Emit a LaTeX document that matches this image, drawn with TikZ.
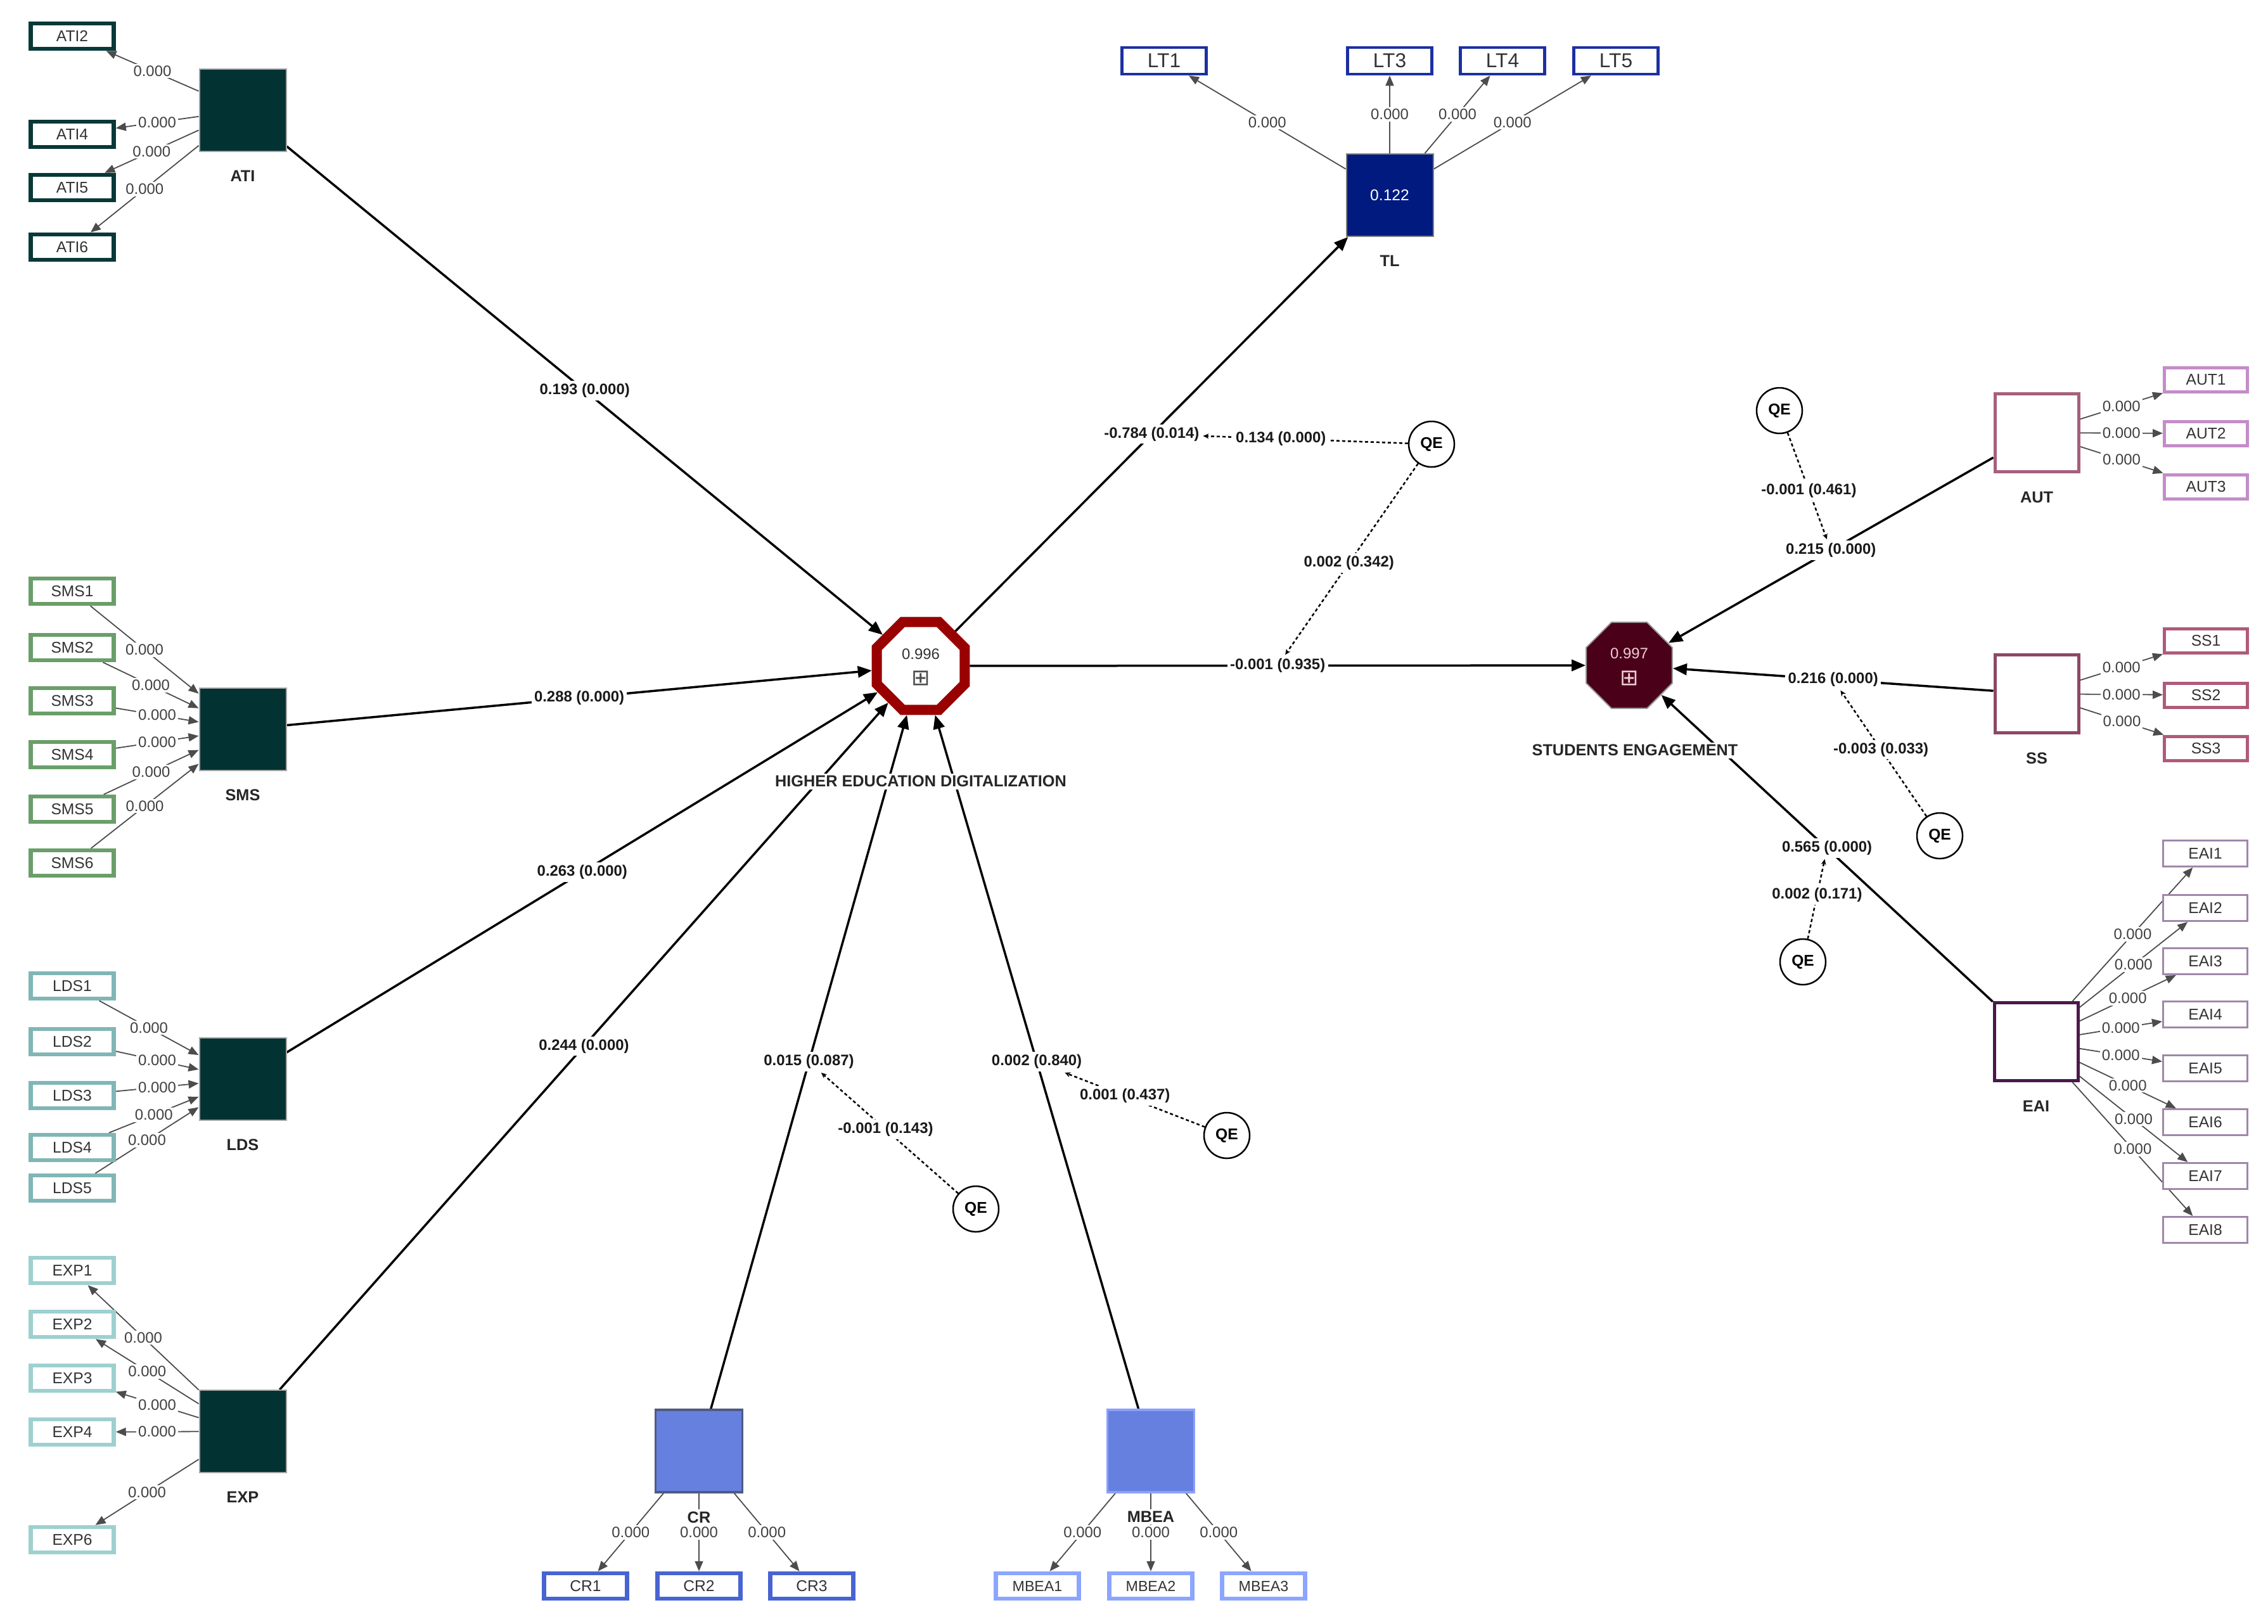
\documentclass[tikz,border=0pt]{standalone}
\usepackage{fontspec}
\setmainfont{Liberation Sans}
\newfontfamily\dejavu{DejaVu Sans}
\usetikzlibrary{shapes.geometric,arrows.meta}
\pgfdeclarelayer{bg}
\pgfsetlayers{bg,main}
\definecolor{cteal}{RGB}{3,50,50}
\definecolor{cATI}{RGB}{8,56,56}
\definecolor{cSMS}{RGB}{106,158,106}
\definecolor{cLDS}{RGB}{128,182,182}
\definecolor{cEXP}{RGB}{158,208,208}
\definecolor{cTL}{RGB}{0,26,128}
\definecolor{cLT}{RGB}{28,48,160}
\definecolor{cCR}{RGB}{102,128,224}
\definecolor{cCRb}{RGB}{80,90,130}
\definecolor{cMBb}{RGB}{140,160,250}
\definecolor{cCRi}{RGB}{72,100,210}
\definecolor{cMBi}{RGB}{140,165,255}
\definecolor{cHED}{RGB}{153,0,0}
\definecolor{cSE}{RGB}{75,0,25}
\definecolor{cAUT}{RGB}{165,96,125}
\definecolor{cAUTi}{RGB}{196,140,200}
\definecolor{cSS}{RGB}{140,72,100}
\definecolor{cSSi}{RGB}{176,90,122}
\definecolor{cEAI}{RGB}{75,25,75}
\definecolor{cEAIi}{RGB}{160,135,170}
\begin{document}
\begin{tikzpicture}[
  label distance=0.245cm,
  ind/.style={rectangle, fill=white, minimum width=1.31cm, minimum height=0.40cm, inner sep=0pt, font=\fontsize{7}{8}\selectfont, text=black!80},
  iATI/.style={ind, draw=cATI, line width=0.065cm},
  iSMS/.style={ind, draw=cSMS, line width=0.065cm},
  iLDS/.style={ind, draw=cLDS, line width=0.065cm},
  iEXP/.style={ind, draw=cEXP, line width=0.065cm},
  iLT/.style={ind, draw=cLT, line width=0.045cm, minimum width=1.33cm, minimum height=0.42cm, font=\fontsize{9}{10}\selectfont},
  iCR/.style={ind, draw=cCRi, line width=0.065cm},
  iMB/.style={ind, draw=cMBi, line width=0.065cm, font=\fontsize{6.6}{8}\selectfont},
  iAUT/.style={ind, draw=cAUTi, line width=0.05cm, minimum width=1.31cm, minimum height=0.38cm},
  iSS/.style={ind, draw=cSSi, line width=0.05cm, minimum width=1.31cm, minimum height=0.38cm},
  iEAI/.style={ind, draw=cEAIi, line width=0.03cm, minimum width=1.33cm, minimum height=0.41cm},
  conlab/.style={font=\bfseries\fontsize{7.2}{8}\selectfont, inner sep=1pt, fill=white, text=black!85},
  con/.style={rectangle, minimum width=1.37cm, minimum height=1.30cm, inner sep=0pt, line width=0.02cm},
  conD/.style={con, fill=cteal, draw=black!35},
  conTL/.style={con, fill=cTL, draw=black!50, text=white, font=\fontsize{7}{8}\selectfont},
  conCR/.style={con, fill=cCR, draw=cCRb, line width=0.035cm},
  conMB/.style={con, fill=cCR, draw=cMBb, line width=0.035cm},
  conW/.style={con, fill=white, line width=0.05cm, minimum width=1.32cm, minimum height=1.23cm},
  hedoct/.style={regular polygon, regular polygon sides=8, minimum size=1.50cm, draw=cHED, line width=0.16cm, fill=white, inner sep=0pt},
  seoct/.style={regular polygon, regular polygon sides=8, minimum size=1.47cm, draw=black!40, line width=0.02cm, fill=cSE, inner sep=0pt},
  ld/.style={draw=black!70, line width=0.018cm, -{Triangle[length=0.16cm,width=0.13cm]}},
  ldl/.style={font=\fontsize{6.8}{8}\selectfont, text=black!75, fill=white, inner sep=0.8pt},
  pth/.style={draw=black, line width=0.035cm, -{Triangle[length=0.22cm,width=0.18cm]}},
  pthl/.style={font=\bfseries\fontsize{6.8}{8}\selectfont, fill=white, inner sep=1.2pt, text=black!90},
  mod/.style={draw=black, line width=0.025cm, dash pattern=on 0.05cm off 0.04cm, -{Stealth[length=0.09cm,width=0.08cm]}},
  qest/.style={circle, draw, fill=white, line width=0.025cm, minimum size=0.72cm, inner sep=0pt, font=\bfseries\fontsize{7}{8}\selectfont}
]
\useasboundingbox (0,0) rectangle (35.79,-25.62);

% ---------- constructs ----------
\node[conD, label={[conlab]below:ATI}] (ati) at (3.83,-1.74) {};
\node[conD, label={[conlab]below:SMS}] (sms) at (3.83,-11.51) {};
\node[conD, label={[conlab]below:LDS}] (lds) at (3.83,-17.03) {};
\node[conD, label={[conlab]below:EXP}] (xp) at (3.83,-22.59) {};
\node[conTL, label={[conlab]below:TL}] (tl) at (21.93,-3.08) {0.122};
\node[conCR, label={[conlab]below:CR}] (cr) at (11.03,-22.90) {};
\node[conMB, label={[conlab]below:MBEA}] (mb) at (18.16,-22.90) {};
\node[conW, draw=cAUT, label={[conlab]below:AUT}] (aut) at (32.14,-6.83) {};
\node[conW, draw=cSS, label={[conlab]below:SS}] (ss) at (32.14,-10.95) {};
\node[conW, draw=cEAI, label={[conlab]below:EAI}] (eai) at (32.13,-16.44) {};

\node[hedoct] (hed) at (14.53,-10.51) {};
\node[font=\fontsize{6.8}{8}\selectfont, text=black!80, inner sep=0pt] (hedval) at (14.53,-10.32) {0.996};
\node[font=\dejavu\fontsize{10}{10}\selectfont, text=black!70, inner sep=0pt] (hedsym) at (14.53,-10.70) {⊞};
\node[conlab] (hedlab) at (14.53,-12.33) {HIGHER EDUCATION DIGITALIZATION};

\node[seoct] (se) at (25.71,-10.50) {};
\node[font=\fontsize{6.8}{8}\selectfont, text={rgb,255:red,240;green,205;blue,215}, inner sep=0pt] (seval) at (25.71,-10.31) {0.997};
\node[font=\dejavu\fontsize{10}{10}\selectfont, text={rgb,255:red,240;green,205;blue,215}, inner sep=0pt] (sesym) at (25.71,-10.70) {⊞};
\node[conlab] (selab) at (25.80,-11.84) {STUDENTS ENGAGEMENT};

% ---------- indicators ----------
\node[iATI] (ati2) at (1.14,-0.57) {ATI2};
\node[iATI] (ati4) at (1.14,-2.12) {ATI4};
\node[iATI] (ati5) at (1.14,-2.96) {ATI5};
\node[iATI] (ati6) at (1.14,-3.90) {ATI6};

\node[iSMS] (sms1) at (1.14,-9.33) {SMS1};
\node[iSMS] (sms2) at (1.14,-10.22) {SMS2};
\node[iSMS] (sms3) at (1.14,-11.06) {SMS3};
\node[iSMS] (sms4) at (1.14,-11.91) {SMS4};
\node[iSMS] (sms5) at (1.14,-12.77) {SMS5};
\node[iSMS] (sms6) at (1.14,-13.62) {SMS6};

\node[iLDS] (lds1) at (1.14,-15.56) {LDS1};
\node[iLDS] (lds2) at (1.14,-16.44) {LDS2};
\node[iLDS] (lds3) at (1.14,-17.29) {LDS3};
\node[iLDS] (lds4) at (1.14,-18.11) {LDS4};
\node[iLDS] (lds5) at (1.14,-18.75) {LDS5};

\node[iEXP] (xp1) at (1.14,-20.05) {EXP1};
\node[iEXP] (xp2) at (1.14,-20.90) {EXP2};
\node[iEXP] (xp3) at (1.14,-21.75) {EXP3};
\node[iEXP] (xp4) at (1.14,-22.60) {EXP4};
\node[iEXP] (xp6) at (1.14,-24.30) {EXP6};

\node[iLT] (lt1) at (18.37,-0.96) {LT1};
\node[iLT] (lt3) at (21.93,-0.96) {LT3};
\node[iLT] (lt4) at (23.71,-0.96) {LT4};
\node[iLT] (lt5) at (25.50,-0.96) {LT5};

\node[iAUT] (aut1) at (34.81,-5.99) {AUT1};
\node[iAUT] (aut2) at (34.81,-6.84) {AUT2};
\node[iAUT] (aut3) at (34.81,-7.68) {AUT3};

\node[iSS] (ss1) at (34.81,-10.11) {SS1};
\node[iSS] (ss2) at (34.81,-10.97) {SS2};
\node[iSS] (ss3) at (34.81,-11.81) {SS3};

\node[iEAI] (eai1) at (34.80,-13.47) {EAI1};
\node[iEAI] (eai2) at (34.80,-14.33) {EAI2};
\node[iEAI] (eai3) at (34.80,-15.17) {EAI3};
\node[iEAI] (eai4) at (34.80,-16.01) {EAI4};
\node[iEAI] (eai5) at (34.80,-16.86) {EAI5};
\node[iEAI] (eai6) at (34.80,-17.71) {EAI6};
\node[iEAI] (eai7) at (34.80,-18.56) {EAI7};
\node[iEAI] (eai8) at (34.80,-19.41) {EAI8};

\node[iCR] (cr1) at (9.24,-25.03) {CR1};
\node[iCR] (cr2) at (11.03,-25.03) {CR2};
\node[iCR] (cr3) at (12.81,-25.03) {CR3};

\node[iMB] (mb1) at (16.37,-25.03) {MBEA1};
\node[iMB] (mb2) at (18.16,-25.03) {MBEA2};
\node[iMB] (mb3) at (19.94,-25.03) {MBEA3};

% ---------- QE moderators ----------
\node[qest] (q1) at (22.59,-7.01) {QE};
\node[qest] (q2) at (28.08,-6.48) {QE};
\node[qest] (q3) at (30.61,-13.19) {QE};
\node[qest] (q4) at (28.45,-15.18) {QE};
\node[qest] (q5) at (15.40,-19.08) {QE};
\node[qest] (q6) at (19.36,-17.92) {QE};

\begin{pgfonlayer}{bg}
% ---------- loadings ----------
\foreach \i in {2,4,5,6} \draw[ld] (ati) -- node[ldl]{0.000} (ati\i);
\foreach \i in {1,...,6} \draw[ld] (sms\i) -- node[ldl]{0.000} (sms);
\foreach \i in {1,...,5} \draw[ld] (lds\i) -- node[ldl]{0.000} (lds);
\foreach \i in {1,2,3,4,6} \draw[ld] (xp) -- node[ldl]{0.000} (xp\i);
\foreach \i in {1,3,4,5} \draw[ld] (tl) -- node[ldl]{0.000} (lt\i);
\foreach \i in {1,2,3} \draw[ld] (aut) -- node[ldl]{0.000} (aut\i);
\foreach \i in {1,2,3} \draw[ld] (ss) -- node[ldl]{0.000} (ss\i);
\foreach \i in {1,...,8} \draw[ld] (eai) -- node[ldl]{0.000} (eai\i);
\foreach \i in {1,2,3} \draw[ld] (cr) -- node[ldl]{0.000} (cr\i);
\foreach \i in {1,2,3} \draw[ld] (mb) -- node[ldl]{0.000} (mb\i);

% ---------- structural paths ----------
\draw[pth] (ati) -- node[pthl] (p1) {0.193 (0.000)} (hed);
\draw[pth] (sms) -- node[pthl] (p2) {0.288 (0.000)} (hed);
\draw[pth] (lds) -- node[pthl] (p3) {0.263 (0.000)} (hed);
\draw[pth] (xp) -- node[pthl] (p4) {0.244 (0.000)} (hed);
\draw[pth] (cr) -- node[pthl] (p5) {0.015 (0.087)} (hed);
\draw[pth] (mb) -- node[pthl] (p6) {0.002 (0.840)} (hed);
\draw[pth] (hed) -- node[pthl] (p7) {-0.784 (0.014)} (tl);
\draw[pth] (hed) -- node[pthl] (p8) {-0.001 (0.935)} (se);
\draw[pth] (aut) -- node[pthl] (p9) {0.215 (0.000)} (se);
\draw[pth] (ss) -- node[pthl] (p10) {0.216 (0.000)} (se);
\draw[pth] (eai) -- node[pthl] (p11) {0.565 (0.000)} (se);

% ---------- moderating effects ----------
\draw[mod] (q1) -- node[pos=0.62, pthl]{0.134 (0.000)} (p7);
\draw[mod] (q1) -- node[pos=0.52, pthl]{0.002 (0.342)} (p8);
\draw[mod] (q2) -- node[pos=0.54, pthl]{-0.001 (0.461)} (p9);
\draw[mod] (q3) -- node[pos=0.53, pthl]{-0.003 (0.033)} (p10);
\draw[mod] (q4) -- node[pos=0.55, pthl]{0.002 (0.171)} (p11);
\draw[mod] (q5) -- node[pos=0.53, pthl]{-0.001 (0.143)} (p5);
\draw[mod] (q6) -- node[pos=0.57, pthl]{0.001 (0.437)} (p6);
\end{pgfonlayer}
\end{tikzpicture}
\end{document}
